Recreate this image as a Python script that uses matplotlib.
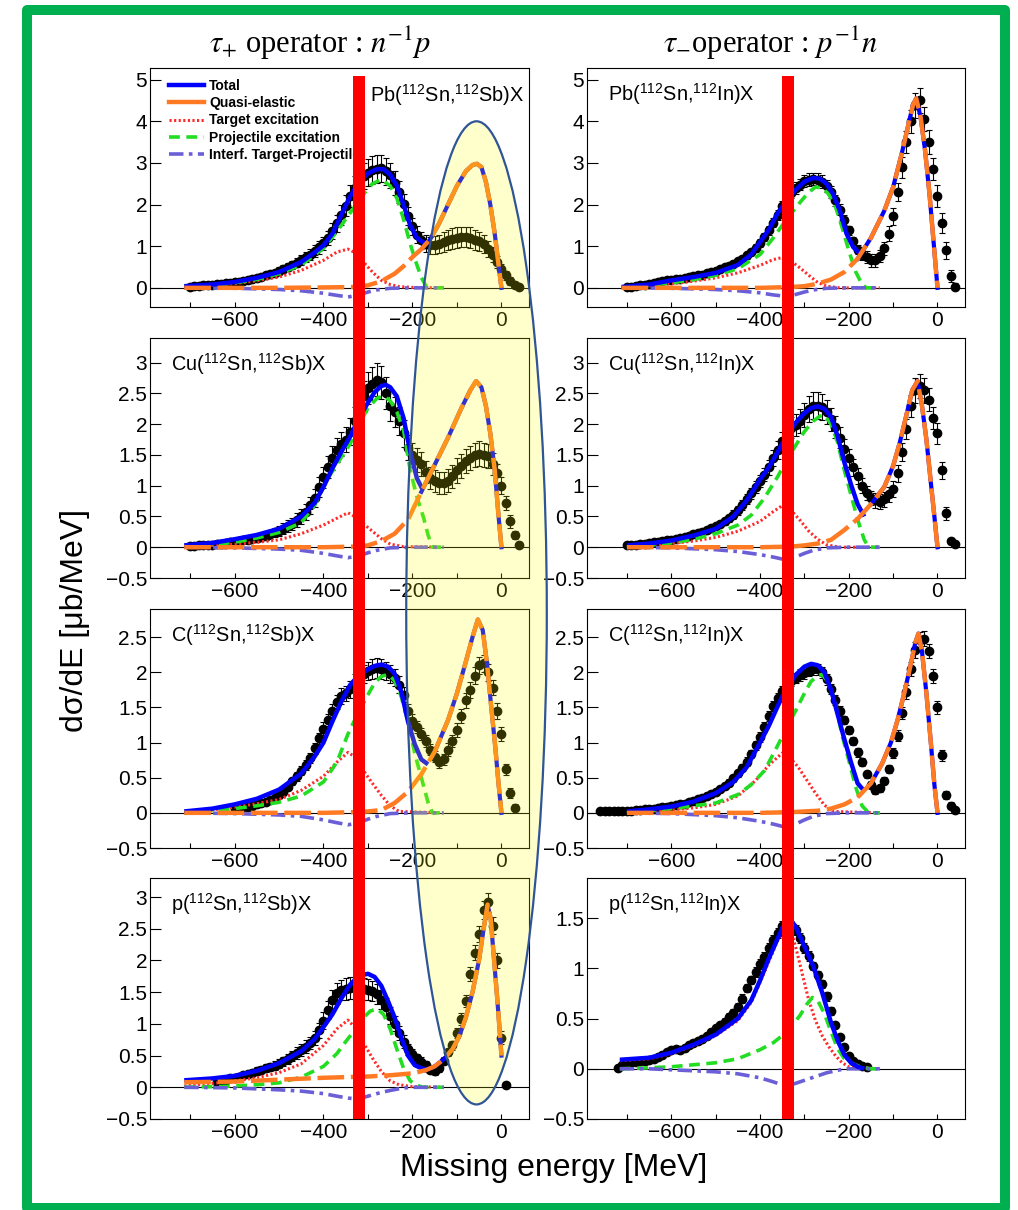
import numpy as np
import matplotlib
matplotlib.use("Agg")
import matplotlib.pyplot as plt
from matplotlib.patches import Rectangle, Ellipse
from matplotlib.lines import Line2D
from matplotlib.ticker import FixedLocator, FuncFormatter

plt.rcParams['font.family'] = ['Liberation Sans', 'DejaVu Sans']
plt.rcParams['mathtext.fontset'] = 'custom'
plt.rcParams['mathtext.rm'] = 'Liberation Sans'
plt.rcParams['mathtext.it'] = 'Liberation Sans:italic'
plt.rcParams['mathtext.bf'] = 'Liberation Sans:bold'

# ---------------- measured spectra (10 MeV bins) ----------------
pb_sb_start = -700
pb_sb_y = [0.03, 0.04, 0.05, 0.06, 0.07, 0.08, 0.09, 0.10, 0.11, 0.12,
           0.14, 0.15, 0.17, 0.19, 0.21, 0.24, 0.27, 0.30, 0.33, 0.36,
           0.40, 0.45, 0.50, 0.55, 0.60, 0.66, 0.73, 0.80, 0.88, 0.97,
           1.07, 1.20, 1.36, 1.55, 1.75, 1.97, 2.20, 2.40, 2.55, 2.68,
           2.77, 2.83, 2.86, 2.87, 2.80, 2.70, 2.52, 2.30, 2.02, 1.72,
           1.48, 1.28, 1.14, 1.06, 1.02, 1.03, 1.06, 1.10, 1.14, 1.18,
           1.20, 1.22, 1.22, 1.20, 1.16, 1.12, 1.05, 0.93, 0.80, 0.62,
           0.45, 0.30, 0.16, 0.06, 0.02]
pb_sb_err = [0.03, 0.03, 0.03, 0.03, 0.04, 0.04, 0.04, 0.04, 0.04, 0.04,
             0.05, 0.05, 0.05, 0.06, 0.06, 0.06, 0.07, 0.07, 0.08, 0.08,
             0.09, 0.09, 0.10, 0.10, 0.11, 0.12, 0.12, 0.13, 0.14, 0.15,
             0.16, 0.17, 0.19, 0.21, 0.23, 0.25, 0.27, 0.28, 0.30, 0.31,
             0.32, 0.33, 0.33, 0.33, 0.32, 0.31, 0.29, 0.27, 0.24, 0.21,
             0.20, 0.20, 0.20, 0.20, 0.21, 0.22, 0.22, 0.23, 0.24, 0.25,
             0.25, 0.25, 0.25, 0.25, 0.24, 0.23, 0.21, 0.19, 0.17, 0.15,
             0.13, 0.11, 0.09, 0.07, 0.06]

pb_in_start = -700
pb_in_y = [0.03, 0.03, 0.04, 0.06, 0.08, 0.10, 0.12, 0.14, 0.16, 0.18,
           0.20, 0.21, 0.22, 0.24, 0.26, 0.28, 0.30, 0.32, 0.35, 0.38,
           0.41, 0.45, 0.49, 0.53, 0.58, 0.64, 0.70, 0.78, 0.86, 0.96,
           1.08, 1.22, 1.38, 1.56, 1.76, 1.96, 2.14, 2.28, 2.40, 2.48,
           2.56, 2.60, 2.62, 2.60, 2.55, 2.45, 2.30, 2.10, 1.88, 1.62,
           1.38, 1.12, 0.92, 0.80, 0.74, 0.66, 0.66, 0.76, 0.95, 1.30,
           1.72, 2.30, 2.90, 3.50, 4.00, 4.38, 4.50, 4.05, 3.50, 2.85,
           2.20, 1.55, 0.90, 0.28, 0.03]
pb_in_err = [0.03, 0.03, 0.03, 0.03, 0.03, 0.03, 0.03, 0.03, 0.04, 0.04,
             0.04, 0.04, 0.04, 0.04, 0.04, 0.05, 0.05, 0.05, 0.05, 0.05,
             0.05, 0.06, 0.06, 0.06, 0.07, 0.07, 0.07, 0.08, 0.08, 0.09,
             0.09, 0.10, 0.10, 0.11, 0.12, 0.12, 0.13, 0.13, 0.14, 0.14,
             0.14, 0.15, 0.15, 0.15, 0.15, 0.14, 0.14, 0.13, 0.13, 0.12,
             0.11, 0.10, 0.10, 0.12, 0.14, 0.15, 0.15, 0.15, 0.16, 0.18,
             0.20, 0.22, 0.25, 0.27, 0.28, 0.30, 0.30, 0.29, 0.28, 0.27,
             0.26, 0.24, 0.20, 0.15, 0.08]

cu_sb_start = -700
cu_sb_y = [0.02, 0.02, 0.03, 0.03, 0.04, 0.04, 0.05, 0.06, 0.07, 0.08,
           0.09, 0.10, 0.11, 0.12, 0.14, 0.15, 0.17, 0.19, 0.21, 0.24,
           0.27, 0.30, 0.34, 0.38, 0.44, 0.50, 0.58, 0.68, 0.80, 0.98,
           1.14, 1.30, 1.45, 1.58, 1.68, 1.75, 1.88, 2.05, 2.25, 2.45,
           2.58, 2.66, 2.72, 2.68, 2.50, 2.30, 2.20, 2.05, 1.85, 1.62,
           1.50, 1.42, 1.35, 1.22, 1.12, 1.08, 1.05, 1.05, 1.08, 1.15,
           1.25, 1.32, 1.40, 1.45, 1.50, 1.52, 1.50, 1.48, 1.35, 1.20,
           1.00, 0.72, 0.42, 0.20, 0.04]
cu_sb_err = [0.02, 0.02, 0.02, 0.02, 0.02, 0.03, 0.03, 0.03, 0.03, 0.04,
             0.04, 0.04, 0.05, 0.05, 0.05, 0.06, 0.06, 0.07, 0.07, 0.08,
             0.08, 0.09, 0.10, 0.10, 0.11, 0.12, 0.13, 0.14, 0.15, 0.16,
             0.17, 0.18, 0.19, 0.20, 0.20, 0.21, 0.22, 0.23, 0.24, 0.25,
             0.26, 0.27, 0.27, 0.27, 0.26, 0.25, 0.24, 0.23, 0.22, 0.21,
             0.20, 0.19, 0.19, 0.18, 0.18, 0.18, 0.18, 0.18, 0.19, 0.19,
             0.20, 0.20, 0.20, 0.20, 0.20, 0.20, 0.20, 0.19, 0.18, 0.16,
             0.14, 0.12, 0.10, 0.07, 0.04]

cu_in_start = -700
cu_in_y = [0.03, 0.03, 0.04, 0.05, 0.06, 0.07, 0.08, 0.09, 0.10, 0.11,
           0.12, 0.13, 0.15, 0.17, 0.19, 0.21, 0.23, 0.25, 0.28, 0.31,
           0.34, 0.38, 0.42, 0.47, 0.53, 0.60, 0.68, 0.78, 0.88, 0.98,
           1.08, 1.18, 1.30, 1.45, 1.58, 1.72, 1.85, 1.94, 1.98, 2.05,
           2.15, 2.25, 2.30, 2.30, 2.28, 2.20, 2.08, 1.95, 1.78, 1.60,
           1.45, 1.30, 1.15, 1.00, 0.88, 0.80, 0.76, 0.74, 0.78, 0.86,
           0.95, 1.20, 1.55, 1.92, 2.30, 2.55, 2.62, 2.55, 2.40, 2.10,
           1.85, 1.25, 0.55, 0.10, 0.05]
cu_in_err = [0.02, 0.02, 0.02, 0.02, 0.02, 0.02, 0.02, 0.02, 0.02, 0.02,
             0.03, 0.03, 0.03, 0.03, 0.03, 0.04, 0.04, 0.04, 0.04, 0.05,
             0.05, 0.05, 0.06, 0.06, 0.07, 0.07, 0.08, 0.08, 0.09, 0.10,
             0.10, 0.11, 0.12, 0.13, 0.14, 0.15, 0.16, 0.17, 0.18, 0.19,
             0.20, 0.21, 0.22, 0.22, 0.21, 0.20, 0.19, 0.18, 0.17, 0.16,
             0.15, 0.14, 0.13, 0.12, 0.12, 0.12, 0.12, 0.12, 0.12, 0.12,
             0.13, 0.14, 0.15, 0.16, 0.18, 0.20, 0.20, 0.20, 0.19, 0.18,
             0.17, 0.14, 0.10, 0.05, 0.03]

c_sb_start = -600
c_sb_y = [0.06, 0.07, 0.08, 0.09, 0.10, 0.12, 0.14, 0.16, 0.18, 0.21,
          0.25, 0.30, 0.37, 0.45, 0.52, 0.60, 0.68, 0.78, 0.92, 1.06,
          1.20, 1.32, 1.45, 1.58, 1.66, 1.70, 1.76, 1.85, 1.92, 1.98,
          2.02, 2.05, 2.06, 2.05, 2.02, 1.98, 1.92, 1.82, 1.68, 1.45,
          1.30, 1.22, 1.12, 1.02, 0.90, 0.80, 0.72, 0.76, 0.90, 1.02,
          1.18, 1.38, 1.60, 1.75, 1.95, 2.10, 2.13, 2.00, 1.78, 1.45,
          1.12, 0.62, 0.28, 0.07]
c_sb_err = [0.03, 0.03, 0.03, 0.03, 0.03, 0.04, 0.04, 0.04, 0.04, 0.04,
            0.04, 0.05, 0.05, 0.05, 0.06, 0.06, 0.07, 0.07, 0.08, 0.08,
            0.09, 0.09, 0.10, 0.10, 0.11, 0.11, 0.12, 0.12, 0.13, 0.13,
            0.13, 0.14, 0.14, 0.14, 0.13, 0.13, 0.12, 0.12, 0.11, 0.10,
            0.10, 0.09, 0.09, 0.09, 0.08, 0.08, 0.08, 0.08, 0.09, 0.09,
            0.10, 0.10, 0.11, 0.11, 0.12, 0.12, 0.12, 0.12, 0.11, 0.11,
            0.10, 0.08, 0.07, 0.05]

c_in_start = -760
c_in_y = [0.03, 0.03, 0.03, 0.03, 0.03, 0.03, 0.03, 0.03, 0.04, 0.04,
          0.05, 0.05, 0.06, 0.07, 0.08, 0.09, 0.10, 0.11, 0.12, 0.13,
          0.15, 0.17, 0.19, 0.21, 0.24, 0.27, 0.30, 0.34, 0.38, 0.43,
          0.49, 0.56, 0.64, 0.73, 0.84, 0.96, 1.08, 1.22, 1.38, 1.52,
          1.64, 1.74, 1.82, 1.88, 1.92, 1.96, 1.99, 2.02, 2.04, 2.04,
          2.00, 1.90, 1.76, 1.60, 1.45, 1.32, 1.18, 1.02, 0.86, 0.72,
          0.55, 0.40, 0.32, 0.35, 0.46, 0.62, 0.85, 1.10, 1.42, 1.72,
          2.05, 2.32, 2.46, 2.48, 2.30, 1.95, 1.50, 0.82, 0.25, 0.10,
          0.04]
c_in_err = [0.02, 0.02, 0.02, 0.02, 0.02, 0.02, 0.02, 0.02, 0.02, 0.02,
            0.02, 0.02, 0.02, 0.02, 0.02, 0.03, 0.03, 0.03, 0.03, 0.03,
            0.03, 0.03, 0.03, 0.03, 0.04, 0.04, 0.04, 0.04, 0.04, 0.05,
            0.05, 0.05, 0.05, 0.06, 0.06, 0.06, 0.07, 0.07, 0.07, 0.07,
            0.07, 0.07, 0.07, 0.07, 0.07, 0.08, 0.08, 0.08, 0.08, 0.08,
            0.08, 0.08, 0.07, 0.07, 0.07, 0.06, 0.06, 0.06, 0.06, 0.06,
            0.05, 0.05, 0.05, 0.05, 0.05, 0.06, 0.07, 0.08, 0.09, 0.10,
            0.10, 0.11, 0.11, 0.11, 0.10, 0.10, 0.09, 0.08, 0.06, 0.05,
            0.04]

p_sb_start = -640
p_sb_y = [0.08, 0.10, 0.12, 0.14, 0.15, 0.17, 0.19, 0.21, 0.23, 0.26,
          0.28, 0.30, 0.32, 0.34, 0.37, 0.41, 0.45, 0.49, 0.54, 0.59,
          0.64, 0.70, 0.78, 0.90, 1.05, 1.22, 1.38, 1.48, 1.53, 1.55,
          1.57, 1.57, 1.56, 1.55, 1.54, 1.52, 1.47, 1.38, 1.27, 1.13,
          1.00, 0.86, 0.72, 0.60, 0.52, 0.46, 0.40, 0.35, 0.28, 0.25,
          0.30, 0.42, 0.55, 0.66, 0.85, 1.08, 1.36, 1.78, 2.12, 2.42,
          2.80, 2.92, 2.55, 2.00, 0.78, 0.04]
p_sb_err = [0.03, 0.03, 0.04, 0.04, 0.04, 0.05, 0.05, 0.05, 0.05, 0.06,
            0.06, 0.06, 0.06, 0.07, 0.07, 0.07, 0.08, 0.08, 0.09, 0.09,
            0.10, 0.10, 0.11, 0.12, 0.13, 0.14, 0.15, 0.16, 0.16, 0.17,
            0.17, 0.17, 0.17, 0.17, 0.17, 0.16, 0.16, 0.15, 0.14, 0.13,
            0.12, 0.11, 0.10, 0.09, 0.08, 0.07, 0.07, 0.06, 0.06, 0.06,
            0.06, 0.06, 0.06, 0.07, 0.08, 0.09, 0.10, 0.11, 0.12, 0.13,
            0.14, 0.15, 0.14, 0.12, 0.10, 0.02]

p_in_start = -720
p_in_y = [0.01, 0.04, 0.06, 0.07, 0.07, 0.08, 0.08, 0.09, 0.10, 0.12,
          0.14, 0.17, 0.19, 0.20, 0.19, 0.21, 0.24, 0.26, 0.28, 0.30,
          0.33, 0.37, 0.41, 0.44, 0.47, 0.52, 0.56, 0.62, 0.70, 0.80,
          0.88, 0.96, 1.04, 1.11, 1.20, 1.28, 1.35, 1.42, 1.44, 1.42,
          1.38, 1.30, 1.20, 1.12, 1.02, 0.93, 0.84, 0.72, 0.58, 0.44,
          0.32, 0.22, 0.13, 0.08, 0.05, 0.03, 0.02]
p_in_err = [0.02, 0.02, 0.02, 0.02, 0.02, 0.02, 0.02, 0.02, 0.02, 0.02,
            0.02, 0.02, 0.02, 0.02, 0.02, 0.03, 0.03, 0.03, 0.03, 0.03,
            0.03, 0.03, 0.03, 0.03, 0.04, 0.04, 0.04, 0.04, 0.04, 0.04,
            0.04, 0.05, 0.05, 0.05, 0.05, 0.05, 0.05, 0.05, 0.05, 0.05,
            0.05, 0.05, 0.05, 0.05, 0.04, 0.04, 0.04, 0.04, 0.04, 0.03,
            0.03, 0.03, 0.02, 0.02, 0.02, 0.02, 0.02]

# ---------------- model curves ----------------
# Pb(112Sn,112Sb)X
pb_sb_total_e = [-713, -650, -600, -550, -500, -450, -420, -400, -380, -360, -340, -320, -300, -280, -265, -250, -235, -220, -205, -190, -175, -160]
pb_sb_total = [0.04, 0.08, 0.14, 0.24, 0.38, 0.62, 0.85, 1.02, 1.30, 1.75, 2.20, 2.55, 2.75, 2.85, 2.85, 2.72, 2.45, 2.00, 1.50, 1.20, 1.08, 1.10]
pb_sb_qe_e = [-713, -600, -500, -400, -330, -300, -270, -240, -220, -200, -180, -160, -140, -120, -100, -80, -65, -55, -45, -35, -25, -15, -7, 0]
pb_sb_qe = [0, 0, 0, 0.01, 0.02, 0.06, 0.16, 0.34, 0.52, 0.74, 0.93, 1.17, 1.55, 2.0, 2.45, 2.8, 2.95, 2.98, 2.9, 2.55, 2.0, 1.3, 0.6, 0.0]
pb_sb_target_e = [-713, -650, -600, -550, -500, -450, -400, -370, -345, -330, -310, -290, -270, -250, -230, -200, -130]
pb_sb_target = [0.02, 0.06, 0.1, 0.17, 0.26, 0.42, 0.66, 0.86, 0.93, 0.85, 0.62, 0.38, 0.18, 0.08, 0.03, 0.01, 0.0]
pb_sb_proj_e = [-713, -650, -600, -550, -500, -450, -400, -370, -340, -310, -290, -270, -250, -235, -220, -205, -190, -180, -170, -160, -130]
pb_sb_proj = [0.03, 0.07, 0.12, 0.2, 0.34, 0.55, 0.95, 1.35, 1.80, 2.25, 2.50, 2.60, 2.45, 2.15, 1.65, 1.05, 0.55, 0.25, 0.05, 0.0, 0.0]
pb_sb_interf_e = [-713, -600, -500, -450, -400, -370, -345, -320, -300, -280, -250, -200, -130]
pb_sb_interf = [0, -0.01, -0.04, -0.07, -0.13, -0.18, -0.22, -0.17, -0.1, -0.05, -0.01, 0, 0]

# Pb(112Sn,112In)X
pb_in_total_e = [-712, -650, -600, -550, -500, -450, -420, -400, -380, -360, -340, -320, -300, -280, -265, -250, -235, -220, -205, -190, -175]
pb_in_total = [0.02, 0.08, 0.18, 0.26, 0.36, 0.55, 0.80, 1.10, 1.40, 1.80, 2.10, 2.35, 2.55, 2.64, 2.62, 2.50, 2.25, 1.85, 1.30, 0.98, 0.82]
pb_in_qe_e = [-712, -500, -400, -330, -300, -270, -240, -210, -180, -150, -120, -100, -80, -65, -55, -48, -38, -28, -18, -8, 0]
pb_in_qe = [0, 0, 0, 0.02, 0.04, 0.1, 0.2, 0.38, 0.7, 1.2, 1.85, 2.42, 3.25, 3.95, 4.4, 4.55, 4.1, 3.3, 2.25, 1.0, 0.0]
pb_in_target_e = [-712, -650, -600, -550, -500, -450, -400, -370, -345, -330, -310, -290, -270, -250, -220, -130]
pb_in_target = [0.01, 0.05, 0.1, 0.16, 0.24, 0.36, 0.54, 0.68, 0.74, 0.64, 0.48, 0.3, 0.13, 0.04, 0.0, 0.0]
pb_in_proj_e = [-712, -650, -600, -550, -500, -450, -400, -370, -340, -310, -290, -275, -260, -245, -230, -215, -200, -185, -170, -160, -130]
pb_in_proj = [0.02, 0.06, 0.12, 0.2, 0.3, 0.46, 0.8, 1.2, 1.65, 2.05, 2.3, 2.42, 2.4, 2.25, 1.95, 1.45, 0.9, 0.4, 0.08, 0.0, 0.0]
pb_in_interf_e = [-712, -600, -500, -450, -400, -370, -345, -320, -300, -280, -250, -200, -130]
pb_in_interf = [0, -0.01, -0.04, -0.07, -0.12, -0.17, -0.2, -0.16, -0.1, -0.05, -0.01, 0, 0]

# Cu(112Sn,112Sb)X
cu_sb_total_e = [-713, -650, -600, -550, -500, -450, -420, -400, -380, -360, -340, -320, -300, -285, -270, -260, -250, -235, -220, -205, -190, -178]
cu_sb_total = [0.03, 0.07, 0.13, 0.2, 0.3, 0.5, 0.72, 0.98, 1.28, 1.55, 1.8, 2.1, 2.35, 2.52, 2.62, 2.64, 2.6, 2.45, 2.1, 1.55, 1.12, 0.95]
cu_sb_qe_e = [-713, -500, -400, -330, -300, -270, -240, -210, -180, -150, -120, -90, -70, -57, -45, -35, -25, -15, -7, 0]
cu_sb_qe = [0, 0, 0, 0.01, 0.03, 0.1, 0.22, 0.45, 0.9, 1.34, 1.78, 2.26, 2.55, 2.7, 2.6, 2.3, 1.85, 1.25, 0.55, 0.0]
cu_sb_target_e = [-713, -650, -600, -550, -500, -450, -400, -370, -345, -330, -310, -290, -270, -250, -220, -130]
cu_sb_target = [0.0, 0.03, 0.05, 0.08, 0.12, 0.22, 0.36, 0.47, 0.56, 0.5, 0.38, 0.26, 0.14, 0.05, 0.01, 0.0]
cu_sb_proj_e = [-713, -650, -600, -550, -500, -450, -420, -390, -360, -340, -320, -300, -280, -265, -250, -235, -220, -205, -190, -175, -165, -155, -130]
cu_sb_proj = [0.0, 0.04, 0.08, 0.15, 0.24, 0.4, 0.68, 1.12, 1.46, 1.68, 2.0, 2.26, 2.42, 2.46, 2.38, 2.2, 1.9, 1.25, 0.82, 0.48, 0.2, 0.0, 0.0]
cu_sb_interf_e = [-713, -600, -500, -450, -400, -370, -345, -320, -300, -280, -250, -200, -130]
cu_sb_interf = [0, -0.01, -0.03, -0.05, -0.1, -0.14, -0.17, -0.14, -0.09, -0.05, -0.01, 0, 0]

# Cu(112Sn,112In)X
cu_in_total_e = [-700, -650, -600, -550, -500, -460, -430, -400, -380, -360, -345, -320, -300, -285, -270, -255, -240, -225, -210, -195, -180, -165]
cu_in_total = [0.03, 0.06, 0.11, 0.19, 0.3, 0.5, 0.76, 1.1, 1.3, 1.55, 1.75, 2.02, 2.18, 2.26, 2.29, 2.25, 2.12, 1.8, 1.38, 1.02, 0.7, 0.5]
cu_in_qe_e = [-700, -500, -400, -330, -300, -270, -240, -210, -180, -150, -120, -100, -85, -70, -57, -45, -35, -25, -15, -7, 0]
cu_in_qe = [0, 0, 0, 0.01, 0.03, 0.06, 0.12, 0.28, 0.46, 0.7, 0.98, 1.32, 1.7, 2.15, 2.55, 2.7, 2.3, 1.75, 1.05, 0.5, 0.0]
cu_in_target_e = [-700, -650, -600, -550, -500, -450, -400, -370, -345, -330, -310, -290, -270, -250, -220, -130]
cu_in_target = [0.0, 0.03, 0.06, 0.1, 0.16, 0.26, 0.42, 0.58, 0.7, 0.6, 0.44, 0.26, 0.13, 0.04, 0.0, 0.0]
cu_in_proj_e = [-700, -650, -600, -550, -500, -450, -420, -390, -360, -345, -320, -300, -280, -265, -255, -240, -225, -210, -195, -180, -165, -155, -130]
cu_in_proj = [0.0, 0.03, 0.07, 0.13, 0.22, 0.36, 0.52, 0.8, 1.15, 1.35, 1.65, 1.88, 2.05, 2.13, 2.15, 2.0, 1.7, 1.25, 0.85, 0.45, 0.12, 0.0, 0.0]
cu_in_interf_e = [-700, -600, -500, -450, -400, -370, -345, -320, -300, -280, -250, -200, -130]
cu_in_interf = [0, -0.01, -0.04, -0.07, -0.12, -0.16, -0.2, -0.16, -0.1, -0.05, -0.01, 0, 0]

# C(112Sn,112Sb)X
c_sb_total_e = [-713, -650, -600, -550, -500, -450, -420, -400, -380, -360, -340, -320, -300, -285, -270, -255, -240, -225, -210, -195, -180, -165]
c_sb_total = [0.02, 0.06, 0.12, 0.2, 0.33, 0.56, 0.8, 1.0, 1.3, 1.58, 1.82, 1.96, 2.04, 2.09, 2.11, 2.08, 1.98, 1.72, 1.3, 0.98, 0.76, 0.69]
c_sb_qe_e = [-713, -500, -400, -330, -300, -270, -240, -210, -180, -150, -120, -100, -80, -65, -53, -42, -32, -22, -14, -7, 0]
c_sb_qe = [0, 0, 0, 0.01, 0.02, 0.04, 0.14, 0.3, 0.55, 0.87, 1.32, 1.7, 2.15, 2.5, 2.75, 2.6, 2.1, 1.45, 0.95, 0.45, 0.0]
c_sb_target_e = [-713, -650, -600, -550, -500, -450, -400, -370, -345, -330, -310, -290, -270, -250, -230, -130]
c_sb_target = [0.0, 0.04, 0.08, 0.13, 0.19, 0.32, 0.52, 0.72, 0.86, 0.8, 0.6, 0.42, 0.25, 0.1, 0.02, 0.0]
c_sb_proj_e = [-713, -650, -600, -550, -500, -450, -400, -370, -345, -320, -300, -285, -270, -255, -240, -225, -210, -195, -180, -165, -155, -130]
c_sb_proj = [0.0, 0.03, 0.06, 0.1, 0.15, 0.24, 0.44, 0.72, 1.12, 1.45, 1.68, 1.85, 1.94, 1.97, 1.88, 1.65, 1.3, 0.85, 0.5, 0.15, 0.0, 0.0]
c_sb_interf_e = [-713, -600, -500, -450, -400, -370, -345, -320, -300, -280, -250, -200, -130]
c_sb_interf = [0, -0.01, -0.03, -0.05, -0.1, -0.14, -0.17, -0.14, -0.09, -0.05, -0.01, 0, 0]

# C(112Sn,112In)X
c_in_total_e = [-700, -650, -600, -550, -500, -460, -430, -400, -380, -360, -345, -320, -300, -285, -270, -255, -240, -225, -210, -195, -180, -165]
c_in_total = [0.02, 0.05, 0.09, 0.16, 0.28, 0.44, 0.65, 1.0, 1.24, 1.52, 1.72, 1.96, 2.08, 2.12, 2.1, 2.0, 1.75, 1.4, 1.05, 0.72, 0.42, 0.31]
c_in_qe_e = [-700, -500, -400, -330, -300, -270, -240, -210, -180, -150, -125, -105, -90, -75, -60, -50, -43, -35, -25, -15, -7, 0]
c_in_qe = [0, 0, 0, 0.01, 0.02, 0.03, 0.06, 0.12, 0.22, 0.42, 0.7, 1.0, 1.32, 1.7, 2.12, 2.42, 2.55, 2.3, 1.7, 1.0, 0.4, 0.0]
c_in_target_e = [-700, -650, -600, -550, -500, -450, -410, -380, -350, -335, -315, -295, -275, -255, -235, -130]
c_in_target = [0.0, 0.02, 0.04, 0.07, 0.12, 0.24, 0.46, 0.68, 0.85, 0.8, 0.66, 0.47, 0.28, 0.11, 0.02, 0.0]
c_in_proj_e = [-700, -650, -600, -550, -500, -450, -420, -390, -360, -345, -320, -300, -285, -270, -260, -245, -230, -215, -200, -185, -170, -155, -130]
c_in_proj = [0.0, 0.03, 0.06, 0.1, 0.14, 0.26, 0.4, 0.6, 0.96, 1.15, 1.45, 1.7, 1.87, 1.95, 1.97, 1.85, 1.55, 1.1, 0.75, 0.38, 0.1, 0.0, 0.0]
c_in_interf_e = [-700, -600, -500, -450, -400, -370, -345, -320, -300, -280, -250, -200, -130]
c_in_interf = [0, -0.01, -0.04, -0.07, -0.12, -0.16, -0.2, -0.16, -0.1, -0.05, -0.01, 0, 0]

# p(112Sn,112Sb)X
p_sb_total_e = [-713, -650, -600, -550, -500, -450, -420, -400, -380, -360, -340, -320, -300, -285, -270, -255, -240, -225, -210, -195, -180, -165]
p_sb_total = [0.11, 0.14, 0.18, 0.26, 0.38, 0.57, 0.76, 0.95, 1.15, 1.4, 1.62, 1.76, 1.79, 1.74, 1.6, 1.36, 1.1, 0.78, 0.5, 0.35, 0.3, 0.28]
p_sb_qe_e = [-713, -600, -500, -400, -300, -250, -200, -170, -150, -130, -110, -95, -80, -65, -50, -40, -31, -24, -17, -10, -4, 0]
p_sb_qe = [0.08, 0.09, 0.12, 0.15, 0.17, 0.19, 0.22, 0.27, 0.33, 0.44, 0.6, 0.8, 1.1, 1.5, 2.02, 2.5, 2.88, 2.65, 2.05, 1.45, 0.9, 0.5]
p_sb_target_e = [-713, -650, -600, -550, -500, -450, -400, -370, -345, -330, -310, -290, -270, -250, -230, -200, -130]
p_sb_target = [0.02, 0.06, 0.1, 0.15, 0.23, 0.37, 0.66, 0.92, 1.06, 0.95, 0.7, 0.46, 0.25, 0.1, 0.04, 0.01, 0.0]
p_sb_proj_e = [-713, -650, -600, -550, -500, -450, -400, -370, -350, -330, -310, -295, -280, -265, -250, -235, -220, -205, -190, -175, -130]
p_sb_proj = [0.0, 0.01, 0.02, 0.04, 0.07, 0.16, 0.33, 0.53, 0.72, 0.9, 1.1, 1.2, 1.24, 1.15, 0.92, 0.6, 0.3, 0.1, 0.03, 0.0, 0.0]
p_sb_interf_e = [-713, -600, -500, -450, -400, -370, -345, -330, -310, -290, -270, -250, -220, -200, -130]
p_sb_interf = [0, -0.01, -0.04, -0.06, -0.1, -0.14, -0.17, -0.18, -0.16, -0.12, -0.08, -0.05, -0.01, 0, 0]

# p(112Sn,112In)X (no quasi-elastic peak)
p_in_total_e = [-716, -650, -600, -550, -500, -450, -420, -400, -380, -360, -345, -335, -320, -300, -280, -260, -240, -225, -210, -195, -180, -165]
p_in_total = [0.09, 0.11, 0.16, 0.24, 0.34, 0.5, 0.68, 0.88, 1.1, 1.3, 1.45, 1.5, 1.42, 1.22, 1.02, 0.76, 0.46, 0.28, 0.14, 0.06, 0.02, 0.0]
p_in_target_e = [-716, -650, -600, -550, -500, -450, -420, -400, -380, -360, -345, -335, -320, -305, -290, -275, -260, -245, -230, -215, -200, -130]
p_in_target = [0.08, 0.1, 0.15, 0.23, 0.33, 0.48, 0.66, 0.86, 1.07, 1.28, 1.42, 1.44, 1.22, 0.95, 0.68, 0.48, 0.33, 0.22, 0.13, 0.06, 0.02, 0.0]
p_in_proj_e = [-716, -650, -600, -550, -500, -450, -400, -370, -350, -330, -310, -295, -282, -270, -255, -240, -225, -210, -195, -175, -150, -130]
p_in_proj = [0.0, 0.01, 0.02, 0.04, 0.06, 0.1, 0.19, 0.26, 0.33, 0.42, 0.53, 0.64, 0.71, 0.68, 0.55, 0.37, 0.2, 0.1, 0.06, 0.02, 0.0, 0.0]
p_in_interf_e = [-716, -650, -600, -500, -450, -400, -370, -345, -330, -310, -290, -270, -250, -220, -200, -130]
p_in_interf = [0.0, 0.0, -0.01, -0.03, -0.05, -0.09, -0.13, -0.17, -0.16, -0.13, -0.1, -0.07, -0.04, -0.01, 0.0, 0.0]

panel_labels = [r"Pb($^{112}$Sn,$^{112}$Sb)X", r"Pb($^{112}$Sn,$^{112}$In)X",
                r"Cu($^{112}$Sn,$^{112}$Sb)X", r"Cu($^{112}$Sn,$^{112}$In)X",
                r"C($^{112}$Sn,$^{112}$Sb)X", r"C($^{112}$Sn,$^{112}$In)X",
                r"p($^{112}$Sn,$^{112}$Sb)X", r"p($^{112}$Sn,$^{112}$In)X"]
legend_labels = ["Total", "Quasi-elastic", "Target excitation",
                 "Projectile excitation", "Interf. Target-Projectile"]

# energy cut markers and the highlighted quasi-elastic region (MeV)
cut_tau_plus = -321
cut_tau_minus = -338
qe_region_center = -56
qe_region_halfwidth = 158

# ---------------- styles ----------------
C_TOTAL = '#0000ff'
C_QE = '#ff7a22'
C_TARGET = '#ff2a2a'
C_PROJ = '#22dd22'
C_INTERF = '#6b5fd8'

W, H = 1018, 1210
fig = plt.figure(figsize=(W / 100, H / 100), dpi=100)


def px_axes(x0, y0, x1, y1):
    return fig.add_axes([x0 / W, 1 - y1 / H, (x1 - x0) / W, (y1 - y0) / H])


cols = [(150, 529), (587, 965)]
rows = [(68, 307), (338, 578), (609, 848), (878, 1119)]

panels = [
    dict(start=pb_sb_start, y=pb_sb_y, err=pb_sb_err,
         total=(pb_sb_total_e, pb_sb_total), qe=(pb_sb_qe_e, pb_sb_qe),
         target=(pb_sb_target_e, pb_sb_target), proj=(pb_sb_proj_e, pb_sb_proj),
         interf=(pb_sb_interf_e, pb_sb_interf)),
    dict(start=pb_in_start, y=pb_in_y, err=pb_in_err,
         total=(pb_in_total_e, pb_in_total), qe=(pb_in_qe_e, pb_in_qe),
         target=(pb_in_target_e, pb_in_target), proj=(pb_in_proj_e, pb_in_proj),
         interf=(pb_in_interf_e, pb_in_interf)),
    dict(start=cu_sb_start, y=cu_sb_y, err=cu_sb_err,
         total=(cu_sb_total_e, cu_sb_total), qe=(cu_sb_qe_e, cu_sb_qe),
         target=(cu_sb_target_e, cu_sb_target), proj=(cu_sb_proj_e, cu_sb_proj),
         interf=(cu_sb_interf_e, cu_sb_interf)),
    dict(start=cu_in_start, y=cu_in_y, err=cu_in_err,
         total=(cu_in_total_e, cu_in_total), qe=(cu_in_qe_e, cu_in_qe),
         target=(cu_in_target_e, cu_in_target), proj=(cu_in_proj_e, cu_in_proj),
         interf=(cu_in_interf_e, cu_in_interf)),
    dict(start=c_sb_start, y=c_sb_y, err=c_sb_err,
         total=(c_sb_total_e, c_sb_total), qe=(c_sb_qe_e, c_sb_qe),
         target=(c_sb_target_e, c_sb_target), proj=(c_sb_proj_e, c_sb_proj),
         interf=(c_sb_interf_e, c_sb_interf)),
    dict(start=c_in_start, y=c_in_y, err=c_in_err,
         total=(c_in_total_e, c_in_total), qe=(c_in_qe_e, c_in_qe),
         target=(c_in_target_e, c_in_target), proj=(c_in_proj_e, c_in_proj),
         interf=(c_in_interf_e, c_in_interf)),
    dict(start=p_sb_start, y=p_sb_y, err=p_sb_err,
         total=(p_sb_total_e, p_sb_total), qe=(p_sb_qe_e, p_sb_qe),
         target=(p_sb_target_e, p_sb_target), proj=(p_sb_proj_e, p_sb_proj),
         interf=(p_sb_interf_e, p_sb_interf)),
    dict(start=p_in_start, y=p_in_y, err=p_in_err,
         total=(p_in_total_e, p_in_total), qe=None,
         target=(p_in_target_e, p_in_target), proj=(p_in_proj_e, p_in_proj),
         interf=(p_in_interf_e, p_in_interf)),
]
panel_ylims = [(-0.46, 5.28), (-0.46, 5.28), (-0.5, 3.4), (-0.5, 3.4),
               (-0.5, 2.9), (-0.5, 2.9), (-0.5, 3.3), (-0.5, 1.9)]
panel_yticks = [[0, 1, 2, 3, 4, 5], [0, 1, 2, 3, 4, 5],
                [-0.5, 0, 0.5, 1, 1.5, 2, 2.5, 3], [-0.5, 0, 0.5, 1, 1.5, 2, 2.5, 3],
                [-0.5, 0, 0.5, 1, 1.5, 2, 2.5], [-0.5, 0, 0.5, 1, 1.5, 2, 2.5],
                [-0.5, 0, 0.5, 1, 1.5, 2, 2.5, 3], [-0.5, 0, 0.5, 1, 1.5]]

tick_fmt = FuncFormatter(lambda v, _: f"{v:g}".replace('-', '\u2212'))

axes = []
for i, p in enumerate(panels):
    r, c = divmod(i, 2)
    ax = px_axes(cols[c][0], rows[r][0], cols[c][1], rows[r][1])
    axes.append(ax)
    ax.set_xlim(-790, 62)
    ax.set_ylim(*panel_ylims[i])
    ax.axhline(0, color='black', lw=0.8, zorder=1)

    e = p['start'] + 10 * np.arange(len(p['y']))
    ax.errorbar(e, p['y'], yerr=p['err'], fmt='o', color='black', ms=6,
                elinewidth=0.8, capsize=2.3, capthick=0.8, zorder=2)

    ax.plot(*p['target'], color=C_TARGET, lw=2.2, ls=(0, (0.7, 0.8)), zorder=3)
    ax.plot(*p['proj'], color=C_PROJ, lw=2.6, ls=(0, (3, 1.8)), zorder=3.5)
    ax.plot(*p['interf'], color=C_INTERF, lw=2.6, ls=(0, (4, 1.5, 1, 1.5)), zorder=3.6)
    ax.plot(*p['total'], color=C_TOTAL, lw=3.2, solid_capstyle='butt', zorder=5)
    if p['qe'] is not None:
        qe_e = np.array(p['qe'][0])
        qe_y = np.array(p['qe'][1])
        # the total follows the quasi-elastic peak beyond the end of the main bump
        tail = qe_e >= p['total'][0][-1] - 10
        ax.plot(qe_e[tail], qe_y[tail], color=C_TOTAL, lw=3.0, zorder=5.5)
        ax.plot(qe_e, qe_y, color=C_QE, lw=3.2, ls=(0, (6, 1.5)), zorder=6)

    ax.xaxis.set_major_locator(FixedLocator([-600, -400, -200, 0]))
    ax.xaxis.set_minor_locator(FixedLocator([-700, -500, -300, -100]))
    ax.xaxis.set_major_formatter(tick_fmt)
    ax.yaxis.set_major_locator(FixedLocator(panel_yticks[i]))
    ax.yaxis.set_major_formatter(tick_fmt)
    ax.tick_params(axis='both', which='both', direction='in', labelsize=15,
                   top=False, right=False, width=0.8)
    ax.tick_params(axis='y', length=8, pad=2)
    ax.tick_params(axis='x', which='both', length=3.5, pad=3)
    for s in ax.spines.values():
        s.set_linewidth(0.8)

    if i == 0:
        ax.text(0.988, 0.885, panel_labels[i], transform=ax.transAxes,
                ha='right', va='center', fontsize=14.3)
    else:
        ax.text(0.055, 0.89, panel_labels[i], transform=ax.transAxes,
                ha='left', va='center', fontsize=14.3)

# legend in the first panel
handles = [Line2D([], [], color=C_TOTAL, lw=3.2),
           Line2D([], [], color=C_QE, lw=3.2),
           Line2D([], [], color=C_TARGET, lw=2.2, ls=(0, (0.7, 0.8))),
           Line2D([], [], color=C_PROJ, lw=2.6, ls=(0, (3, 1.8))),
           Line2D([], [], color=C_INTERF, lw=2.6, ls=(0, (4, 1.5, 1, 1.5)))]
leg = axes[0].legend(handles, legend_labels, loc='upper left',
                     bbox_to_anchor=(0.05, 0.955), frameon=False, borderpad=0,
                     borderaxespad=0, handlelength=2.5, handletextpad=0.4,
                     labelspacing=0.24, prop={'weight': 'bold', 'size': 10})
leg.set_zorder(10)

# column headers and common axis titles
fig.text(320 / W, 1 - 43 / H, r"$\tau_{+}$ operator : $n^{-1}p$",
         fontfamily='Liberation Serif', math_fontfamily='stix', fontsize=22,
         ha='center', va='center')
fig.text(770 / W, 1 - 43 / H, r"$\tau_{-}$operator : $p^{-1}n$",
         fontfamily='Liberation Serif', math_fontfamily='stix', fontsize=22,
         ha='center', va='center')
fig.text(75 / W, 1 - 621 / H, "dσ/dE [μb/MeV]", rotation=90, fontsize=23,
         ha='center', va='center')
fig.text(554 / W, 1 - 1168 / H, "Missing energy [MeV]", fontsize=23,
         ha='center', va='center')


def fig_xy(ax, x, y):
    px = ax.transData.transform((x, y))
    return px[0] / fig.bbox.width, px[1] / fig.bbox.height


# highlighted quasi-elastic region on the tau+ column
xl, yt = fig_xy(axes[0], qe_region_center - qe_region_halfwidth, 4.0)
xr, _ = fig_xy(axes[0], qe_region_center + qe_region_halfwidth, 4.0)
_, yb = fig_xy(axes[6], 0, -0.27)
fig.add_artist(Ellipse(((xl + xr) / 2, (yt + yb) / 2), xr - xl, yt - yb,
                       transform=fig.transFigure, facecolor='#ffff00', alpha=0.2,
                       edgecolor='none', zorder=20))
fig.add_artist(Ellipse(((xl + xr) / 2, (yt + yb) / 2), xr - xl, yt - yb,
                       transform=fig.transFigure, facecolor='none',
                       edgecolor='#2f5597', lw=1.6, zorder=21))

# energy cut bars through each column
bar_w = 12 / W
top = axes[0].get_position().y1 - 8 / H
bottom = axes[6].get_position().y0
for ax, cut in ((axes[0], cut_tau_plus), (axes[1], cut_tau_minus)):
    xc, _ = fig_xy(ax, cut, 0)
    fig.add_artist(Rectangle((xc - bar_w / 2, bottom), bar_w, top - bottom,
                             transform=fig.transFigure, facecolor='#ff0000',
                             edgecolor='none', zorder=22))

# outer frame
fig.add_artist(Rectangle((27 / W, 1 - 1208 / H), 978 / W, 1198 / H,
                         transform=fig.transFigure, facecolor='none',
                         edgecolor='#00b050', lw=7.2, joinstyle='round',
                         zorder=30))

fig.savefig("out.png", dpi=100)
